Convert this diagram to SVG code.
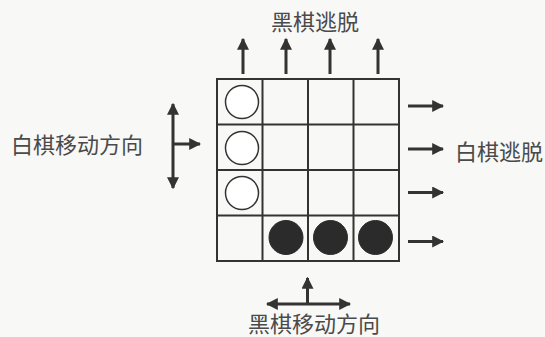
<svg xmlns="http://www.w3.org/2000/svg" width="545" height="337" viewBox="0 0 545 337">
<defs>
<marker id="ah" viewBox="0 0 10 10" refX="9" refY="5" markerWidth="4" markerHeight="4" orient="auto-start-reverse" markerUnits="strokeWidth">
<path d="M0,0 L10,5 L0,10 Z" fill="#333"/>
</marker>
<style>
.grid{fill:none;stroke:#333;stroke-width:2}
.white{fill:#fff;stroke:#333;stroke-width:1.5}
.black{fill:#2b2b2b;stroke:#2b2b2b;stroke-width:1}
.arr{stroke:#333;stroke-width:3;fill:none}
.lbl{font-family:"Noto Sans CJK SC","Noto Sans",sans-serif;font-size:22px;fill:#4a4a4a}
</style>
</defs>
<rect width="545" height="337" fill="#f8f8f6"/>
<g id="board">
<rect x="217" y="79" width="182" height="182" fill="#fff" class="grid"/>
<path class="grid" d="M262.5,79V261M308,79V261M353.5,79V261M217,124.5H399M217,170H399M217,215.5H399"/>
</g>
<g id="white-stones">
<circle class="white" cx="242" cy="102" r="16.5"/>
<circle class="white" cx="242" cy="148" r="16.5"/>
<circle class="white" cx="242" cy="193" r="16.5"/>
</g>
<g id="black-stones">
<circle class="black" cx="286" cy="237.5" r="17"/>
<circle class="black" cx="330.5" cy="237.5" r="17"/>
<circle class="black" cx="375.5" cy="237.5" r="17"/>
</g>
<g id="connectors">
<line class="arr" x1="243" y1="74" x2="243" y2="39" marker-end="url(#ah)"/>
<line class="arr" x1="286" y1="74" x2="286" y2="39" marker-end="url(#ah)"/>
<line class="arr" x1="330" y1="74" x2="330" y2="39" marker-end="url(#ah)"/>
<line class="arr" x1="378" y1="74" x2="378" y2="39" marker-end="url(#ah)"/>
<line class="arr" x1="408" y1="106" x2="443" y2="106" marker-end="url(#ah)"/>
<line class="arr" x1="408" y1="149" x2="443" y2="149" marker-end="url(#ah)"/>
<line class="arr" x1="408" y1="192.5" x2="443" y2="192.5" marker-end="url(#ah)"/>
<line class="arr" x1="408" y1="241.5" x2="443" y2="241.5" marker-end="url(#ah)"/>
<line class="arr" x1="173" y1="104" x2="173" y2="188" marker-start="url(#ah)" marker-end="url(#ah)"/>
<line class="arr" x1="173" y1="144" x2="200" y2="144" marker-end="url(#ah)"/>
<line class="arr" x1="267" y1="304" x2="350" y2="304" marker-start="url(#ah)" marker-end="url(#ah)"/>
<line class="arr" x1="307.5" y1="304" x2="307.5" y2="278" marker-end="url(#ah)"/>
</g>
<g id="labels">
<text class="lbl" x="315" y="30" text-anchor="middle">黑棋逃脱</text>
<text class="lbl" x="499" y="160" text-anchor="middle">白棋逃脱</text>
<text class="lbl" x="77" y="153" text-anchor="middle">白棋移动方向</text>
<text class="lbl" x="314" y="332" text-anchor="middle">黑棋移动方向</text>
</g>
</svg>
